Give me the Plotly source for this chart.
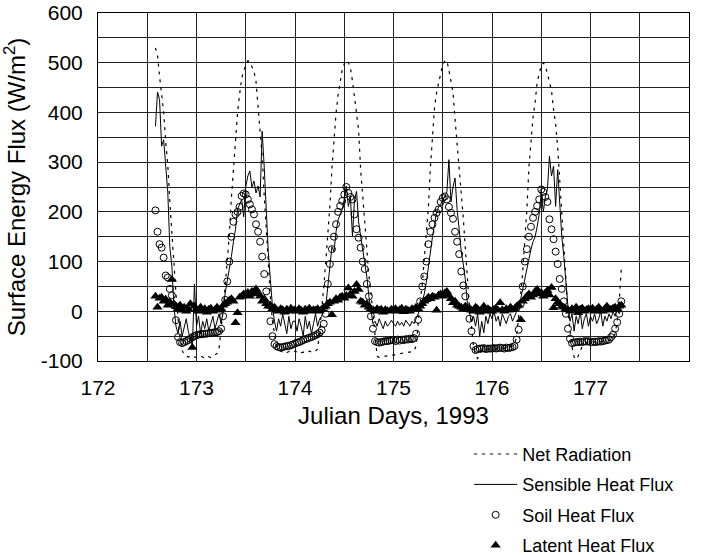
import plotly.graph_objects as go

# ---- half-hourly series (W/m^2), day 172 starts at 14:00, day 177 ends at 07:30 ----
days = [172, 173, 174, 175, 176, 177]
first_halfhour = {172: 28, 173: 0, 174: 0, 175: 0, 176: 0, 177: 0}

x_ticks = [172, 173, 174, 175, 176, 177, 178]
y_ticks = [-100, 0, 100, 200, 300, 400, 500, 600]
y_tick_labels = ["-100", "0", "100", "200", "300", "400", "500", "600"]

net_rad_172 = [530, 515, 473, 435, 400, 340, 295, 220, 150, 95, 35, -15, -55, -78, -88, -90, -92, -90, -93, -92]
net_rad_173 = [-92, -93, -90, -92, -94, -90, -91, -93, -90, -88, -85, -75,
               -40, 5, 52, 104, 153, 228, 290, 350, 399, 436, 468, 484,
               496, 504, 502, 492, 482, 462, 415, 365, 312, 232, 162, 85,
               30, -20, -50, -70, -78, -80, -82, -80, -83, -81, -80, -82]
net_rad_174 = [-80, -82, -80, -83, -82, -84, -82, -80, -82, -83, -80, -76,
               -42, 0, 48, 100, 150, 212, 288, 348, 398, 435, 466, 486,
               498, 505, 500, 490, 463, 425, 398, 364, 283, 232, 176, 121,
               72, 38, -5, -60, -90, -93, -92, -91, -90, -90, -89, -88]
net_rad_175 = [-88, -87, -86, -86, -85, -84, -83, -82, -82, -81, -80, -70,
               -17, 20, 53, 110, 160, 210, 290, 352, 410, 440, 461, 482,
               497, 503, 505, 485, 466, 440, 386, 340, 295, 236, 188, 127,
               62, 10, -30, -70, -90, -95, -85, -78, -76, -76, -75, -75]
net_rad_176 = [-75, -75, -76, -74, -75, -74, -75, -74, -73, -72, -70, -66,
               -50, -10, 30, 80, 145, 205, 290, 340, 390, 420, 460, 478,
               494, 500, 493, 478, 462, 444, 405, 378, 330, 260, 196, 130,
               57, 0, -38, -72, -92, -97, -90, -80, -70, -65, -63, -62]
net_rad_177 = [-62, -61, -62, -60, -60, -61, -60, -59, -60, -58, -57, -55, -45, -20, 20, 85]

sens_172 = [372, 441, 426, 332, 345, 300, 240, 130, 90, 10, -30, -45, -20, -50, -35, -15, -40, -55, -70, 55]
sens_173 = [-30, -10, -45, -20, -35, -15, -40, -25, -10, -35, -20, -5,
            -25, 0, 37, 60, 80, 110, 140, 165, 205, 215, 225, 190,
            250, 272, 282, 250, 262, 238, 252, 230, 362, 290, 200, 118,
            64, 10, -20, -40, -15, -30, -5, -25, -45, -10, -35, -20]
sens_174 = [-20, -40, -15, -30, -50, -10, -35, -20, -45, -25, -5, -30,
            -15, -10, 5, 10, 50, 85, 130, 120, 160, 184, 195, 205,
            225, 252, 211, 230, 151, 225, 241, 180, 151, 125, 95, 70,
            30, 0, -25, -20, -30, -15, -25, -35, -20, -30, -25, -18]
sens_175 = [-25, -30, -20, -28, -22, -30, -18, -25, -30, -20, -25, -15,
            -5, 5, 20, 35, 58, 90, 125, 150, 175, 200, 210, 215,
            225, 230, 240, 305, 220, 250, 268, 205, 165, 120, 95, 64,
            15, -5, -20, -10, -30, -5, -50, -20, -43, -10, -25, -5]
sens_176 = [-15, 0, -20, -10, -30, -5, -15, -25, -10, -5, -20, -10,
            0, 10, 25, 45, 65, 90, 110, 125, 140, 150, 170, 195,
            240, 200, 230, 245, 312, 272, 292, 211, 285, 211, 151, 110,
            55, 10, -20, -5, -40, -10, -25, 0, -35, -15, -5, -30]
sens_177 = [-10, -20, -5, -25, -15, 0, -30, -10, -20, -5, -15, 0, -10, 5, -5, 5]

soil_172 = [203, 160, 135, 128, 108, 72, 68, 45, 32, 12, -18, -52, -62, -64, -62, -60, -58, -55, -52, -50]
soil_173 = [-48, -47, -46, -46, -45, -45, -44, -44, -43, -42, -42, -40,
            -35, -10, 23, 60, 100, 150, 180, 195, 200, 210, 232, 237,
            235, 225, 215, 205, 195, 175, 160, 140, 110, 75, 40, 13,
            -20, -50, -66, -70, -72, -73, -72, -71, -70, -70, -68, -67]
soil_174 = [-65, -63, -62, -60, -58, -56, -55, -53, -52, -50, -48, -46,
            -43, -38, -25, -5, 55, 95, 125, 150, 175, 200, 212, 222,
            235, 250, 238, 230, 225, 195, 165, 148, 128, 100, 85, 55,
            30, -10, -35, -60, -62, -63, -62, -61, -60, -60, -59, -58]
soil_175 = [-58, -60, -57, -59, -57, -58, -56, -57, -55, -56, -54, -45,
            -17, 20, 50, 70, 100, 135, 160, 175, 188, 198, 205, 220,
            228, 231, 225, 210, 198, 186, 160, 140, 115, 80, 52, 30,
            8, -15, -40, -70, -78, -76, -75, -75, -74, -76, -75, -75]
soil_176 = [-75, -74, -75, -74, -73, -74, -75, -73, -74, -73, -72, -70,
            -57, -37, 15, 50, 100, 125, 150, 170, 188, 200, 212, 225,
            245, 240, 230, 220, 185, 165, 145, 120, 95, 65, 45, 20,
            -5, -35, -55, -64, -63, -62, -62, -61, -62, -60, -61, -60]
soil_177 = [-62, -62, -61, -62, -60, -61, -60, -59, -58, -57, -52, -47, -35, -22, -5, 20]

lat_172 = [30, 8, 26, 28, 20, 24, 12, 18, 64, 15, 10, 5, 12, 2, 8, 0, 5, 15, -73, 10]
lat_173 = [3, 0, 8, 2, 5, -2, 4, 6, 0, 3, 8, 2,
           5, 12, 15, 18, 22, 25, 20, -23, -3, 28, 30, 35,
           33, 38, 30, 40, 35, 45, 38, 30, 20, 25, 15, 10,
           12, 5, 8, 2, 0, 5, 3, -2, 4, 0, 6, 2]
lat_174 = [3, 0, 5, 2, -2, 4, 1, 6, 0, 3, 2, 5,
           0, 4, 8, 10, 15, 18, -7, 20, 25, 22, 28, 30,
           26, 32, 47, 35, 30, 40, 54, 44, 20, 18, 12, 15,
           8, 5, 3, 0, 5, 2, 4, -2, 3, 1, 0, 4]
lat_175 = [2, 5, 0, 3, 6, -1, 4, 2, 0, 5, 3, 8,
           5, 10, 15, 20, 23, 28, 25, 30, 28, 2, 33, 35,
           30, 37, 40, 32, 25, 17, 20, 12, 10, 8, 5, 10,
           3, 5, 2, 0, 8, 5, -2, 3, 10, 0, 5, 2]
lat_176 = [0, 4, 6, 2, 17, 3, 0, 5, 2, 8, 3, 5,
           10, 12, -17, 20, 25, 30, 35, 28, 33, 40, 44, 35,
           38, 30, 37, 42, 33, 48, 7, 25, 18, 15, 10, 8,
           5, 3, 0, 5, 2, 8, -3, 4, 6, 0, 3, 5]
lat_177 = [2, 6, 0, 4, 8, 3, 0, 5, 10, 2, 4, 6, 8, 5, 10, 12]

net_rad = [net_rad_172, net_rad_173, net_rad_174, net_rad_175, net_rad_176, net_rad_177]
sensible = [sens_172, sens_173, sens_174, sens_175, sens_176, sens_177]
soil = [soil_172, soil_173, soil_174, soil_175, soil_176, soil_177]
latent = [lat_172, lat_173, lat_174, lat_175, lat_176, lat_177]


def build(series):
    xs, ys = [], []
    for d, vals in zip(days, series):
        h0 = first_halfhour[d]
        for i, v in enumerate(vals):
            xs.append(d + (h0 + i) / 48.0)
            ys.append(v)
    return xs, ys


FONT = "Liberation Sans, Arial, Helvetica, sans-serif"
fig = go.Figure()

x, y = build(net_rad)
fig.add_trace(go.Scatter(x=x, y=y, mode="lines", name="Net Radiation",
                         line=dict(color="black", width=1.2, dash="3px,5px"),
                         legendgroup="a"))
x, y = build(sensible)
fig.add_trace(go.Scatter(x=x, y=y, mode="lines", name="Sensible Heat Flux",
                         line=dict(color="black", width=1), legendgroup="b"))
x, y = build(soil)
fig.add_trace(go.Scatter(x=x, y=y, mode="markers", name="Soil Heat Flux",
                         marker=dict(symbol="circle-open", size=7, color="black",
                                     line=dict(width=1, color="black")),
                         legendgroup="c"))
x, y = build(latent)
fig.add_trace(go.Scatter(x=x, y=y, mode="markers", name="Latent Heat Flux",
                         marker=dict(symbol="triangle-up", size=9, color="black"),
                         legendgroup="d"))

grid = "#222222"
fig.update_layout(
    width=706, height=555, autosize=False,
    margin=dict(l=98, r=17, t=13, b=194, autoexpand=False),
    paper_bgcolor="white", plot_bgcolor="white",
    font=dict(family=FONT, color="black"),
    showlegend=True,
    legend=dict(x=0.628, y=-0.215, xanchor="left", yanchor="top",
                font=dict(size=18, family=FONT, color="black"),
                bgcolor="rgba(0,0,0,0)", tracegroupgap=4,
                itemwidth=43),
    xaxis=dict(range=[172, 178], tickmode="array", tickvals=x_ticks,
               ticktext=[str(v) for v in x_ticks], showgrid=True,
               gridcolor=grid, gridwidth=1, zeroline=False,
               minor=dict(dtick=0.5, showgrid=True, gridcolor=grid, gridwidth=1),
               showline=True, linecolor="black", linewidth=1, mirror=True,
               ticks="", tickfont=dict(size=21, family=FONT),
               ticklabelstandoff=8,
               title=dict(text="Julian Days, 1993", font=dict(size=24, family=FONT),
                          standoff=8)),
    yaxis=dict(range=[-100, 600], tickmode="array", tickvals=y_ticks,
               ticktext=y_tick_labels, showgrid=True,
               gridcolor=grid, gridwidth=1, zeroline=False,
               minor=dict(tickmode="linear", tick0=-100, dtick=50, showgrid=True,
                          gridcolor=grid, gridwidth=1),
               showline=True, linecolor="black", linewidth=1, mirror=True,
               ticks="", tickfont=dict(size=21, family=FONT),
               ticklabelstandoff=10,
               title=dict(text="Surface Energy Flux (W/m<sup>2</sup>)",
                          font=dict(size=24, family=FONT), standoff=10)),
)

fig.write_html("out.html")
